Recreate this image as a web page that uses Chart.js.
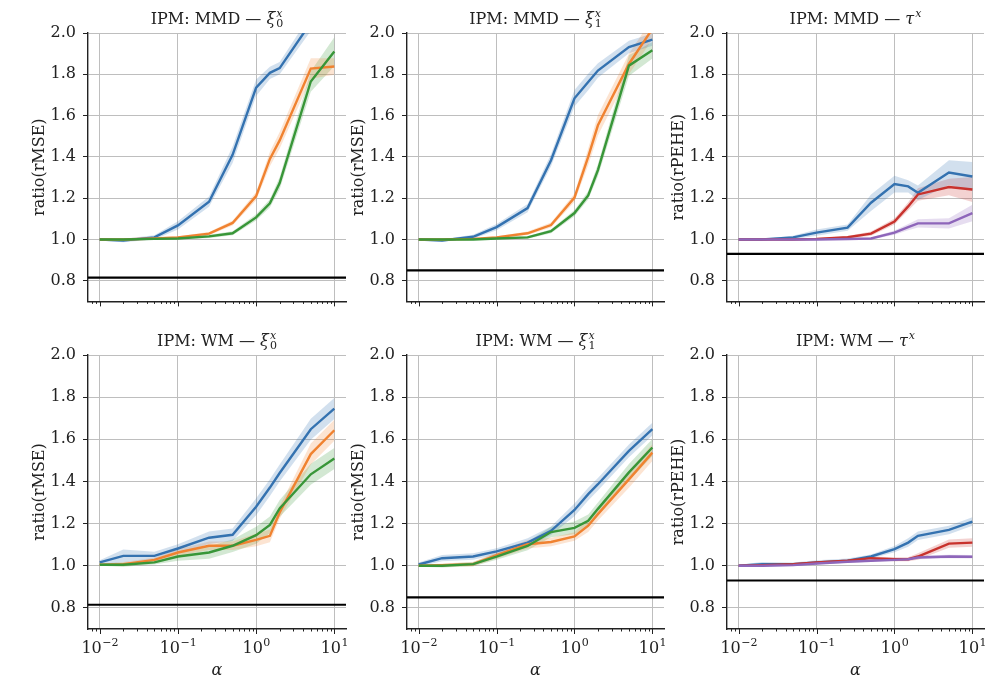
<!DOCTYPE html>
<html>
<head>
<meta charset="utf-8">
<title>IPM ratio panels</title>
<script src="https://cdn.jsdelivr.net/npm/chart.js"></script>
<style>
  body { margin: 0; background: #fff; }
  #wrap { position: relative; width: 997px; height: 680px; overflow: hidden; }
  #wrap canvas { position: absolute; }
</style>
</head>
<body>
<div id="wrap"></div>
<script>
// ---- data ----
const alphas = [0.01, 0.02, 0.05, 0.1, 0.25, 0.5, 1, 1.5, 2, 5, 10];
const yTicks = [0.8, 1.0, 1.2, 1.4, 1.6, 1.8, 2.0];
const xMajor = [0.01, 0.1, 1, 10];
const xMajorExp = ['\u22122', '\u22121', '0', '1'];
const refLines = [0.815, 0.85, 0.93];

// IPM: MMD — xi0
const mmdXi0Blue   = [1.0, 0.995, 1.01, 1.068, 1.183, 1.41, 1.735, 1.807, 1.83, 2.05, 2.25];
const mmdXi0BlueE  = [0.005, 0.008, 0.01, 0.02, 0.025, 0.04, 0.04, 0.03, 0.03, 0.04, 0.05];
const mmdXi0Orange = [1.0, 1.0, 1.005, 1.01, 1.028, 1.08, 1.21, 1.39, 1.48, 1.828, 1.838];
const mmdXi0OrangeE= [0.003, 0.003, 0.004, 0.005, 0.008, 0.012, 0.02, 0.035, 0.04, 0.05, 0.04];
const mmdXi0Green  = [1.0, 1.0, 1.003, 1.005, 1.015, 1.03, 1.107, 1.175, 1.273, 1.765, 1.91];
const mmdXi0GreenE = [0.003, 0.003, 0.003, 0.004, 0.008, 0.01, 0.015, 0.02, 0.03, 0.05, 0.07];

// IPM: MMD — xi1
const mmdXi1Blue   = [1.0, 0.995, 1.013, 1.06, 1.152, 1.384, 1.684, 1.763, 1.818, 1.932, 1.968];
const mmdXi1BlueE  = [0.005, 0.006, 0.01, 0.015, 0.02, 0.03, 0.04, 0.04, 0.035, 0.03, 0.03];
const mmdXi1Orange = [1.0, 1.0, 1.003, 1.01, 1.03, 1.07, 1.203, 1.40, 1.553, 1.85, 2.02];
const mmdXi1OrangeE= [0.003, 0.003, 0.004, 0.005, 0.008, 0.012, 0.02, 0.04, 0.05, 0.05, 0.05];
const mmdXi1Green  = [1.0, 1.0, 1.0, 1.005, 1.01, 1.04, 1.128, 1.213, 1.336, 1.842, 1.916];
const mmdXi1GreenE = [0.003, 0.003, 0.003, 0.004, 0.006, 0.01, 0.015, 0.02, 0.03, 0.05, 0.04];

// IPM: MMD — tau
const mmdTauBlue    = [1.0, 1.0, 1.01, 1.033, 1.057, 1.178, 1.268, 1.257, 1.226, 1.324, 1.305];
const mmdTauBlueE   = [0.003, 0.004, 0.008, 0.015, 0.015, 0.04, 0.04, 0.03, 0.035, 0.06, 0.07];
const mmdTauRed     = [1.0, 1.0, 1.0, 1.003, 1.011, 1.028, 1.087, 1.16, 1.218, 1.254, 1.242];
const mmdTauRedE    = [0.002, 0.002, 0.003, 0.004, 0.006, 0.01, 0.015, 0.02, 0.03, 0.04, 0.06];
const mmdTauPurple  = [1.0, 1.0, 1.0, 1.0, 1.002, 1.005, 1.033, 1.06, 1.078, 1.078, 1.128];
const mmdTauPurpleE = [0.002, 0.002, 0.002, 0.003, 0.004, 0.005, 0.01, 0.015, 0.02, 0.025, 0.04];

// IPM: WM — xi0
const wmXi0Blue    = [1.016, 1.047, 1.047, 1.082, 1.133, 1.147, 1.28, 1.371, 1.44, 1.648, 1.746];
const wmXi0BlueE   = [0.01, 0.03, 0.02, 0.02, 0.03, 0.03, 0.04, 0.04, 0.04, 0.05, 0.05];
const wmXi0Orange  = [1.005, 1.008, 1.028, 1.063, 1.095, 1.095, 1.123, 1.142, 1.253, 1.53, 1.643];
const wmXi0OrangeE = [0.005, 0.01, 0.01, 0.015, 0.02, 0.02, 0.03, 0.03, 0.03, 0.05, 0.05];
const wmXi0Green   = [1.005, 1.005, 1.016, 1.044, 1.063, 1.095, 1.145, 1.194, 1.272, 1.434, 1.509];
const wmXi0GreenE  = [0.005, 0.01, 0.01, 0.02, 0.03, 0.03, 0.04, 0.04, 0.04, 0.05, 0.05];

// IPM: WM — xi1
const wmXi1Blue    = [1.006, 1.036, 1.044, 1.068, 1.11, 1.166, 1.265, 1.34, 1.387, 1.545, 1.648];
const wmXi1BlueE   = [0.01, 0.015, 0.015, 0.015, 0.02, 0.02, 0.03, 0.03, 0.03, 0.03, 0.03];
const wmXi1Orange  = [1.0, 1.003, 1.008, 1.05, 1.102, 1.113, 1.139, 1.19, 1.245, 1.41, 1.537];
const wmXi1OrangeE = [0.005, 0.008, 0.01, 0.015, 0.02, 0.02, 0.02, 0.03, 0.03, 0.04, 0.04];
const wmXi1Green   = [1.0, 1.0, 1.008, 1.043, 1.094, 1.16, 1.18, 1.213, 1.27, 1.443, 1.561];
const wmXi1GreenE  = [0.005, 0.008, 0.01, 0.015, 0.02, 0.025, 0.03, 0.03, 0.03, 0.04, 0.04];

// IPM: WM — tau
const wmTauBlue    = [1.0, 1.008, 1.008, 1.016, 1.024, 1.044, 1.079, 1.11, 1.142, 1.17, 1.21];
const wmTauBlueE   = [0.005, 0.01, 0.008, 0.01, 0.01, 0.01, 0.015, 0.02, 0.02, 0.02, 0.02];
const wmTauRed     = [1.0, 1.003, 1.008, 1.016, 1.024, 1.036, 1.031, 1.031, 1.044, 1.105, 1.11];
const wmTauRedE    = [0.003, 0.005, 0.005, 0.005, 0.006, 0.008, 0.01, 0.01, 0.015, 0.02, 0.02];
const wmTauPurple  = [1.0, 1.0, 1.003, 1.011, 1.019, 1.024, 1.028, 1.031, 1.039, 1.044, 1.043];
const wmTauPurpleE = [0.003, 0.003, 0.004, 0.004, 0.005, 0.005, 0.006, 0.006, 0.008, 0.008, 0.008];

// ---- styling / layout ----
const BLUE = '52,114,176', ORANGE = '240,130,48', GREEN = '56,150,56', RED = '200,50,45', PURPLE = '142,102,186';
const FONT = 'DejaVu Serif';
const colLeft = [88, 407, 727], colRight = [346, 664, 984];
const rowTop = [33, 355], rowBottom = [306, 629];
const TOP_PAD = 33, Y_W = 88, RIGHT_PAD = 13, X_H = [12, 51];

const panels = [
  { ipm: 'MMD', sym: '\u03BE', sup: 'x', sub: '0', ylabel: 'ratio(rMSE)', ref: refLines[0],
    series: [[mmdXi0Blue, mmdXi0BlueE, BLUE], [mmdXi0Orange, mmdXi0OrangeE, ORANGE], [mmdXi0Green, mmdXi0GreenE, GREEN]] },
  { ipm: 'MMD', sym: '\u03BE', sup: 'x', sub: '1', ylabel: 'ratio(rMSE)', ref: refLines[1],
    series: [[mmdXi1Blue, mmdXi1BlueE, BLUE], [mmdXi1Orange, mmdXi1OrangeE, ORANGE], [mmdXi1Green, mmdXi1GreenE, GREEN]] },
  { ipm: 'MMD', sym: '\u03C4', sup: 'x', sub: '', ylabel: 'ratio(rPEHE)', ref: refLines[2],
    series: [[mmdTauBlue, mmdTauBlueE, BLUE], [mmdTauRed, mmdTauRedE, RED], [mmdTauPurple, mmdTauPurpleE, PURPLE]] },
  { ipm: 'WM', sym: '\u03BE', sup: 'x', sub: '0', ylabel: 'ratio(rMSE)', ref: refLines[0],
    series: [[wmXi0Blue, wmXi0BlueE, BLUE], [wmXi0Orange, wmXi0OrangeE, ORANGE], [wmXi0Green, wmXi0GreenE, GREEN]] },
  { ipm: 'WM', sym: '\u03BE', sup: 'x', sub: '1', ylabel: 'ratio(rMSE)', ref: refLines[1],
    series: [[wmXi1Blue, wmXi1BlueE, BLUE], [wmXi1Orange, wmXi1OrangeE, ORANGE], [wmXi1Green, wmXi1GreenE, GREEN]] },
  { ipm: 'WM', sym: '\u03C4', sup: 'x', sub: '', ylabel: 'ratio(rPEHE)', ref: refLines[2],
    series: [[wmTauBlue, wmTauBlueE, BLUE], [wmTauRed, wmTauRedE, RED], [wmTauPurple, wmTauPurpleE, PURPLE]] }
];

// reference line, log tick marks, superscript tick labels and panel title
const panelDecor = {
  id: 'panelDecor',
  beforeDatasetsDraw(chart, args, opts) {
    const { ctx, chartArea: a, scales: { y } } = chart;
    const yy = y.getPixelForValue(opts.ref);
    ctx.save();
    ctx.strokeStyle = '#000';
    ctx.lineWidth = 2.2;
    ctx.beginPath();
    ctx.moveTo(a.left, yy);
    ctx.lineTo(a.right, yy);
    ctx.stroke();
    ctx.restore();
  },
  afterDraw(chart, args, opts) {
    const { ctx, chartArea: a, scales: { x } } = chart;
    ctx.save();
    ctx.strokeStyle = '#222';
    ctx.lineWidth = 1;
    for (let e = -3; e <= 1; e++) {
      for (let m = 1; m <= 9; m++) {
        const v = m * Math.pow(10, e);
        if (v < x.min || v > x.max) continue;
        const px = Math.round(x.getPixelForValue(v)) + 0.5;
        const len = m === 1 ? 5 : 2.5;
        ctx.beginPath();
        ctx.moveTo(px, a.bottom);
        ctx.lineTo(px, a.bottom + len);
        ctx.stroke();
      }
    }
    ctx.fillStyle = '#222';
    ctx.textBaseline = 'alphabetic';
    ctx.textAlign = 'left';
    if (opts.labels) {
      xMajor.forEach((v, k) => {
        const px = x.getPixelForValue(v);
        ctx.font = '16px "' + FONT + '"';
        const w1 = ctx.measureText('10').width;
        ctx.font = '11px "' + FONT + '"';
        const w2 = ctx.measureText(xMajorExp[k]).width;
        const x0 = px - (w1 + w2) / 2;
        const base = a.bottom + 24;
        ctx.font = '16px "' + FONT + '"';
        ctx.fillText('10', x0, base);
        ctx.font = '11px "' + FONT + '"';
        ctx.fillText(xMajorExp[k], x0 + w1 + 0.5, base - 7);
      });
    }
    // title
    const p = opts.panel;
    const main = 'IPM: ' + p.ipm + ' \u2014 ';
    ctx.font = '16px "' + FONT + '"';
    const wMain = ctx.measureText(main).width;
    ctx.font = 'italic 16px "' + FONT + '"';
    const wSym = ctx.measureText(p.sym).width;
    ctx.font = 'italic 11px "' + FONT + '"';
    const wSup = ctx.measureText(p.sup).width;
    ctx.font = '11px "' + FONT + '"';
    const wSub = ctx.measureText(p.sub).width;
    const total = wMain + wSym + Math.max(wSup, wSub) + 1;
    let tx = (a.left + a.right) / 2 - total / 2;
    const tb = a.top - 9;
    ctx.font = '16px "' + FONT + '"';
    ctx.fillText(main, tx, tb);
    tx += wMain;
    ctx.font = 'italic 16px "' + FONT + '"';
    ctx.fillText(p.sym, tx, tb);
    tx += wSym + 1;
    ctx.font = 'italic 11px "' + FONT + '"';
    ctx.fillText(p.sup, tx, tb - 7);
    ctx.font = '11px "' + FONT + '"';
    if (p.sub) ctx.fillText(p.sub, tx, tb + 3);
    ctx.restore();
  }
};

const wrap = document.getElementById('wrap');

panels.forEach((p, i) => {
  const col = i % 3, row = Math.floor(i / 3);
  const plotW = colRight[col] - colLeft[col];
  const plotH = rowBottom[row] - rowTop[row];
  const canvas = document.createElement('canvas');
  canvas.width = Y_W + plotW + RIGHT_PAD;
  canvas.height = TOP_PAD + plotH + X_H[row];
  canvas.style.left = (colLeft[col] - Y_W) + 'px';
  canvas.style.top = (rowTop[row] - TOP_PAD) + 'px';
  wrap.appendChild(canvas);

  const datasets = [];
  p.series.forEach(([mean, err, rgb]) => {
    datasets.push({
      data: alphas.map((a, k) => ({ x: a, y: mean[k] + err[k] })),
      fill: '+1', backgroundColor: 'rgba(' + rgb + ',0.22)', borderColor: 'transparent',
      borderWidth: 0, pointRadius: 0, order: 100
    });
    datasets.push({
      data: alphas.map((a, k) => ({ x: a, y: mean[k] - err[k] })),
      fill: false, borderColor: 'transparent', borderWidth: 0, pointRadius: 0, order: 100
    });
  });
  p.series.forEach(([mean, err, rgb], s) => {
    datasets.push({
      data: alphas.map((a, k) => ({ x: a, y: mean[k] })),
      fill: false, borderColor: 'rgb(' + rgb + ')', borderWidth: 2.4, pointRadius: 0,
      order: 10 - s
    });
  });

  new Chart(canvas.getContext('2d'), {
    type: 'line',
    data: { datasets },
    plugins: [panelDecor],
    options: {
      responsive: false,
      animation: false,
      devicePixelRatio: 1,
      layout: { padding: { top: TOP_PAD, right: RIGHT_PAD, left: 0, bottom: 0 } },
      plugins: {
        legend: { display: false },
        tooltip: { enabled: false },
        filler: { drawTime: 'beforeDatasetsDraw' },
        panelDecor: { ref: p.ref, labels: row === 1, panel: p }
      },
      scales: {
        x: {
          type: 'logarithmic',
          min: 0.00708, max: 14.1,
          afterBuildTicks: sc => { sc.ticks = xMajor.map(v => ({ value: v })); },
          afterFit: sc => { sc.height = X_H[row]; },
          ticks: { display: false },
          grid: { color: '#bebebe', lineWidth: 1, drawTicks: false },
          border: { color: '#222', width: 1.4 },
          title: {
            display: row === 1, text: '\u03B1', color: '#222',
            font: { family: FONT, size: 16, style: 'italic' }, padding: 0
          }
        },
        y: {
          min: 0.7, max: 2.0,
          afterBuildTicks: sc => { sc.ticks = yTicks.map(v => ({ value: v })); },
          afterFit: sc => { sc.width = Y_W; },
          ticks: {
            callback: v => Number(v).toFixed(1), color: '#222', padding: 7,
            font: { family: FONT, size: 16 }
          },
          grid: { color: '#bebebe', lineWidth: 1, tickColor: '#222', tickLength: 5 },
          border: { color: '#222', width: 1.4 },
          title: {
            display: true, text: p.ylabel, color: '#222',
            font: { family: FONT, size: 16 }, padding: { top: 30, bottom: 0 }
          }
        }
      }
    }
  });
});
</script>
</body>
</html>
